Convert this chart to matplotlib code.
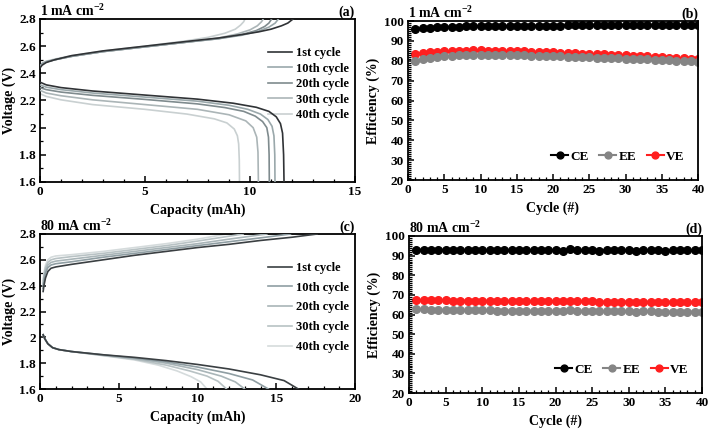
import numpy as np
import matplotlib
matplotlib.use("Agg")
import matplotlib.pyplot as plt
from matplotlib.ticker import MultipleLocator, FormatStrFormatter

plt.rcParams['font.family'] = ['Liberation Serif', 'DejaVu Serif']
plt.rcParams['font.weight'] = 'bold'
plt.rcParams['axes.labelweight'] = 'bold'
plt.rcParams['mathtext.fontset'] = 'custom'
plt.rcParams['mathtext.rm'] = 'Liberation Serif:bold'
plt.rcParams['mathtext.it'] = 'Liberation Serif:italic:bold'
plt.rcParams['mathtext.bf'] = 'Liberation Serif:bold'
plt.rcParams['mathtext.default'] = 'rm'

cycle_names = ['1st cycle', '10th cycle', '20th cycle', '30th cycle', '40th cycle']

# ---- (a) 1 mA cm-2 charge / discharge ----
a_chg_cap = [
    [0.0, 0.1, 0.3, 0.7, 1.5, 3.0, 5.0, 7.0, 8.5, 9.6, 10.4, 11.0, 11.5, 11.8, 12.05],
    [0.0, 0.1, 0.3, 0.7, 1.5, 3.0, 5.0, 7.0, 8.5, 9.6, 10.4, 10.9, 11.2, 11.35],
    [0.0, 0.1, 0.3, 0.7, 1.5, 3.0, 5.0, 7.0, 8.5, 9.6, 10.3, 10.7, 10.9, 11.03],
    [0.0, 0.1, 0.3, 0.7, 1.5, 3.0, 5.0, 7.0, 8.5, 9.4, 10.0, 10.35, 10.55, 10.63],
    [0.0, 0.1, 0.3, 0.7, 1.5, 3.0, 5.0, 7.0, 8.0, 8.8, 9.3, 9.55, 9.7, 9.76],
]
a_chg_v = [
    [2.44, 2.46, 2.48, 2.50, 2.53, 2.565, 2.60, 2.635, 2.66, 2.685, 2.705, 2.725, 2.75, 2.77, 2.80],
    [2.45, 2.47, 2.485, 2.50, 2.525, 2.56, 2.595, 2.63, 2.655, 2.68, 2.71, 2.74, 2.77, 2.80],
    [2.45, 2.47, 2.485, 2.50, 2.525, 2.56, 2.595, 2.63, 2.655, 2.685, 2.715, 2.745, 2.77, 2.80],
    [2.455, 2.47, 2.485, 2.50, 2.525, 2.56, 2.595, 2.63, 2.66, 2.69, 2.72, 2.75, 2.78, 2.80],
    [2.46, 2.475, 2.49, 2.505, 2.53, 2.565, 2.60, 2.64, 2.665, 2.695, 2.725, 2.755, 2.78, 2.80],
]
a_dis_cap = [
    [0.0, 0.3, 1.0, 2.5, 5.0, 7.5, 9.2, 10.3, 10.9, 11.25, 11.45, 11.55, 11.6, 11.62],
    [0.0, 0.3, 1.0, 2.5, 5.0, 7.5, 9.0, 9.9, 10.5, 10.85, 11.05, 11.14, 11.18, 11.19],
    [0.0, 0.3, 1.0, 2.5, 5.0, 7.5, 8.8, 9.7, 10.25, 10.6, 10.8, 10.88, 10.91, 10.92],
    [0.0, 0.3, 1.0, 2.5, 5.0, 7.5, 9.0, 9.8, 10.15, 10.32, 10.38, 10.4],
    [0.0, 0.3, 1.0, 2.5, 5.0, 7.0, 8.3, 8.9, 9.25, 9.4, 9.46, 9.49, 9.5],
]
a_dis_v = [
    [2.335, 2.315, 2.295, 2.27, 2.24, 2.21, 2.18, 2.15, 2.12, 2.08, 2.03, 1.96, 1.80, 1.60],
    [2.315, 2.298, 2.28, 2.255, 2.225, 2.195, 2.165, 2.135, 2.10, 2.06, 2.01, 1.94, 1.80, 1.60],
    [2.295, 2.28, 2.262, 2.238, 2.208, 2.175, 2.148, 2.12, 2.085, 2.045, 2.0, 1.93, 1.80, 1.60],
    [2.275, 2.255, 2.235, 2.205, 2.17, 2.135, 2.095, 2.05, 2.0, 1.93, 1.82, 1.60],
    [2.25, 2.23, 2.205, 2.17, 2.135, 2.10, 2.065, 2.035, 1.99, 1.94, 1.88, 1.76, 1.60],
]

# ---- (c) 80 mA cm-2 charge / discharge ----
c_chg_cap = [
    [0.2, 0.25, 0.35, 0.5, 0.7, 1.0, 2.0, 4.0, 6.0, 8.0, 10.0, 12.0, 14.0, 16.0, 17.6],
    [0.2, 0.25, 0.35, 0.5, 0.7, 1.0, 2.0, 4.0, 6.0, 8.0, 10.0, 12.0, 14.0, 15.9],
    [0.2, 0.25, 0.35, 0.5, 0.7, 1.0, 2.0, 4.0, 6.0, 8.0, 10.0, 12.0, 14.4],
    [0.2, 0.25, 0.35, 0.5, 0.7, 1.0, 2.0, 4.0, 6.0, 8.0, 10.0, 12.9],
    [0.2, 0.25, 0.35, 0.5, 0.7, 1.0, 2.0, 4.0, 6.0, 8.0, 10.0, 11.85],
]
c_chg_v = [
    [2.355, 2.40, 2.46, 2.51, 2.535, 2.545, 2.565, 2.60, 2.635, 2.665, 2.695, 2.72, 2.75, 2.775, 2.80],
    [2.38, 2.44, 2.50, 2.54, 2.56, 2.57, 2.585, 2.62, 2.65, 2.68, 2.71, 2.74, 2.77, 2.80],
    [2.40, 2.46, 2.52, 2.56, 2.58, 2.59, 2.605, 2.635, 2.665, 2.695, 2.725, 2.76, 2.80],
    [2.42, 2.48, 2.54, 2.58, 2.60, 2.61, 2.625, 2.65, 2.68, 2.71, 2.745, 2.80],
    [2.44, 2.50, 2.56, 2.60, 2.62, 2.63, 2.64, 2.665, 2.695, 2.725, 2.76, 2.80],
]
c_dis_cap = [
    [0.2, 0.3, 0.5, 0.8, 1.2, 2.0, 4.0, 6.0, 8.0, 10.0, 12.0, 14.0, 15.5, 16.4],
    [0.2, 0.3, 0.5, 0.8, 1.2, 2.0, 4.0, 6.0, 8.0, 10.0, 12.0, 13.5, 14.5],
    [0.2, 0.3, 0.5, 0.8, 1.2, 2.0, 4.0, 6.0, 8.0, 10.0, 11.5, 12.4, 13.0],
    [0.2, 0.3, 0.5, 0.8, 1.2, 2.0, 4.0, 6.0, 8.0, 9.5, 10.6, 11.3, 11.85],
    [0.2, 0.3, 0.5, 0.8, 1.2, 2.0, 4.0, 6.0, 7.5, 8.7, 9.6, 10.2, 10.6],
]
c_dis_v = [
    [2.02, 1.99, 1.95, 1.92, 1.905, 1.89, 1.865, 1.845, 1.82, 1.79, 1.755, 1.71, 1.665, 1.60],
    [2.02, 1.99, 1.95, 1.92, 1.905, 1.89, 1.865, 1.84, 1.81, 1.77, 1.72, 1.67, 1.60],
    [2.02, 1.99, 1.95, 1.92, 1.905, 1.89, 1.862, 1.835, 1.80, 1.75, 1.70, 1.655, 1.60],
    [2.02, 1.99, 1.95, 1.92, 1.905, 1.89, 1.86, 1.83, 1.785, 1.74, 1.70, 1.66, 1.60],
    [2.02, 1.99, 1.95, 1.92, 1.905, 1.89, 1.858, 1.825, 1.785, 1.74, 1.695, 1.655, 1.60],
]

# ---- (b) and (d) efficiencies ----
cycles = list(range(1, 41))
ce_b = [95.8, 96.3, 96.6, 96.8, 97.0, 97.1, 97.2, 97.3, 97.3, 97.4, 97.4, 97.5, 97.5, 97.5,
        97.6, 97.6, 97.6, 97.7, 97.7, 97.7, 97.7, 97.8, 97.8, 97.8, 97.8, 97.9, 97.9, 97.9,
        97.9, 97.9, 98.0, 98.0, 98.0, 98.0, 98.0, 98.0, 98.0, 98.0, 98.0, 98.1]
ee_b = [80.1, 80.7, 81.3, 81.8, 82.2, 82.5, 82.7, 82.8, 82.9, 83.0, 83.0, 83.0, 82.9, 82.9,
        82.8, 82.7, 82.6, 82.5, 82.4, 82.3, 82.2, 82.1, 82.0, 81.9, 81.8, 81.6, 81.5, 81.4,
        81.3, 81.1, 81.0, 80.8, 80.7, 80.5, 80.3, 80.2, 80.0, 79.8, 79.7, 79.5]
ve_b = [83.6, 83.9, 84.2, 84.5, 84.7, 84.9, 85.0, 85.1, 85.2, 85.2, 85.1, 85.1, 85.0, 84.9,
        84.8, 84.7, 84.6, 84.5, 84.3, 84.2, 84.1, 83.9, 83.8, 83.6, 83.5, 83.3, 83.2, 83.0,
        82.9, 82.7, 82.5, 82.4, 82.2, 82.0, 81.8, 81.6, 81.4, 81.2, 81.0, 80.8]
ce_d = [93.0, 93.0, 93.0, 92.9, 92.9, 92.9, 92.8, 92.9, 92.8, 92.9, 92.8, 92.9, 92.9, 92.8,
        92.8, 92.8, 92.8, 92.8, 92.7, 92.7, 92.6, 93.3, 92.9, 92.8, 92.7, 92.6, 92.8, 92.8,
        92.8, 92.7, 92.3, 92.8, 92.8, 92.7, 92.6, 92.7, 92.8, 92.8, 92.7, 92.8]
ee_d = [62.7, 62.6, 62.5, 62.4, 62.3, 62.3, 62.2, 62.2, 62.1, 62.1, 62.1, 62.0, 62.0, 62.0,
        61.9, 61.9, 61.9, 61.9, 61.8, 61.8, 61.7, 62.1, 61.8, 61.8, 61.7, 61.6, 61.7, 61.7,
        61.7, 61.6, 61.3, 61.6, 61.6, 61.5, 61.4, 61.5, 61.5, 61.5, 61.4, 61.5]
ve_d = [67.4, 67.3, 67.3, 67.2, 67.2, 67.1, 67.1, 67.1, 67.0, 67.0, 67.0, 66.9, 66.9, 66.9,
        66.9, 66.8, 66.8, 66.8, 66.8, 66.8, 66.7, 66.7, 66.7, 66.7, 66.7, 66.6, 66.6, 66.6,
        66.6, 66.6, 66.5, 66.5, 66.5, 66.5, 66.5, 66.5, 66.4, 66.4, 66.4, 66.4]

a_colors = ['#303336', '#9aa8ab', '#7f8b8e', '#abb5b7', '#c9d0d1']
c_colors = ['#3a3f42', '#8f9ea3', '#a9b5b8', '#b8c2c4', '#d5dbdc']

W, H = 709, 430
fig = plt.figure(figsize=(W / 100, H / 100), dpi=100)


def px_axes(l, t, r, b):
    return fig.add_axes([l / W, 1 - b / H, (r - l) / W, (b - t) / H])


def style(ax, title, tag):
    for s in ax.spines.values():
        s.set_linewidth(1.3)
    ax.tick_params(which='both', direction='in', labelsize=9.5, top=False, right=False)
    ax.tick_params(which='major', length=4, width=1.1, pad=3)
    ax.tick_params(which='minor', length=2.5, width=0.9)
    for lab in ax.get_xticklabels() + ax.get_yticklabels():
        lab.set_fontweight('bold')
    ax.set_title(title, loc='left', fontsize=10, fontweight='bold', pad=2)
    ax.set_title(tag, loc='right', fontsize=10, fontweight='bold', pad=2)


# (a)
ax = px_axes(40, 19, 355, 182)
for i in range(5):
    ax.plot(a_dis_cap[i], a_dis_v[i], color=a_colors[i], lw=1.2, zorder=6 - i)
    ax.plot(a_chg_cap[i], a_chg_v[i], color=a_colors[i], lw=1.2, zorder=6 - i,
            label=cycle_names[i])
ax.set_xlim(0, 15)
ax.set_ylim(1.6, 2.8)
ax.xaxis.set_major_locator(MultipleLocator(5))
ax.xaxis.set_minor_locator(MultipleLocator(1))
ax.yaxis.set_major_locator(MultipleLocator(0.2))
ax.yaxis.set_minor_locator(MultipleLocator(0.1))
ax.yaxis.set_major_formatter(FormatStrFormatter('%g'))
ax.set_xlabel('Capacity (mAh)', fontsize=10, labelpad=4)
ax.set_ylabel('Voltage (V)', fontsize=10, labelpad=2)
ax.legend(loc='upper right', bbox_to_anchor=(1.0, 0.865), frameon=False, fontsize=9,
          handlelength=1.9, handletextpad=0.3, labelspacing=0.28, borderpad=0.2,
          borderaxespad=0.3)
style(ax, '1 mA cm$^{-2}$', '(a)')

# (c)
ax = px_axes(40, 234, 355, 389)
for i in range(5):
    ax.plot(c_dis_cap[i], c_dis_v[i], color=c_colors[i], lw=1.2, zorder=6 - i)
    ax.plot(c_chg_cap[i], c_chg_v[i], color=c_colors[i], lw=1.2, zorder=6 - i,
            label=cycle_names[i])
ax.set_xlim(0, 20)
ax.set_ylim(1.6, 2.8)
ax.xaxis.set_major_locator(MultipleLocator(5))
ax.xaxis.set_minor_locator(MultipleLocator(1))
ax.yaxis.set_major_locator(MultipleLocator(0.2))
ax.yaxis.set_minor_locator(MultipleLocator(0.1))
ax.yaxis.set_major_formatter(FormatStrFormatter('%g'))
ax.set_xlabel('Capacity (mAh)', fontsize=10, labelpad=4)
ax.set_ylabel('Voltage (V)', fontsize=10, labelpad=2)
ax.legend(loc='upper right', bbox_to_anchor=(1.0, 0.86), frameon=False, fontsize=9,
          handlelength=1.9, handletextpad=0.3, labelspacing=0.62, borderpad=0.2,
          borderaxespad=0.3)
style(ax, '80 mA cm$^{-2}$', '(c)')


def eff_panel(box, ce, ee, ve, title, tag):
    ax = px_axes(*box)
    ax.plot(cycles, ce, '-o', color='black', ms=5.5, lw=1.5, label='CE', zorder=3)
    ax.plot(cycles, ee, '-o', color='#858585', ms=5.5, lw=1.5, label='EE', zorder=2)
    ax.plot(cycles, ve, '-o', color='#ff1f1f', ms=5.5, lw=1.5, label='VE', zorder=1)
    ax.set_xlim(0, 40)
    ax.set_ylim(20, 100)
    ax.xaxis.set_major_locator(MultipleLocator(5))
    ax.xaxis.set_minor_locator(MultipleLocator(1))
    ax.yaxis.set_major_locator(MultipleLocator(10))
    ax.yaxis.set_minor_locator(MultipleLocator(1))
    ax.set_xlabel('Cycle (#)', fontsize=10, labelpad=4)
    ax.set_ylabel('Efficiency (%)', fontsize=10, labelpad=3)
    ax.legend(loc='lower right', bbox_to_anchor=(0.985, 0.05), ncol=3, frameon=False,
              fontsize=9.5, handlelength=1.3, handletextpad=0.15, columnspacing=0.8,
              borderpad=0.2, markerscale=0.9)
    style(ax, title, tag)
    return ax


eff_panel((408, 21, 698, 180), ce_b, ee_b, ve_b, '1 mA cm$^{-2}$', '(b)')
eff_panel((409, 236, 702, 393), ce_d, ee_d, ve_d, '80 mA cm$^{-2}$', '(d)')

fig.savefig('out.png', dpi=100)
